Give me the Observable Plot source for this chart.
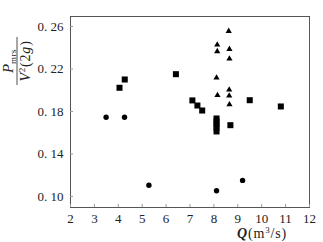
<!DOCTYPE html>
<html><head><meta charset="utf-8">
<script src="https://cdn.jsdelivr.net/npm/d3@7"></script>
<script src="https://cdn.jsdelivr.net/npm/@observablehq/plot@0.6"></script>
<style>
body{margin:0;background:#fff;}
#chart svg{display:block;}
</style></head>
<body><div id="chart"></div>
<script>
const circleQ = [3.49, 4.26, 5.28, 8.11, 9.20];
const circleR = [0.1746, 0.1746, 0.1106, 0.1054, 0.1151];
const squareQ = [4.05, 4.27, 6.41, 7.10, 7.31, 7.51, 8.11, 8.11, 8.11, 8.11, 8.11, 8.69, 9.50, 10.80];
const squareR = [0.2023, 0.2101, 0.2151, 0.1904, 0.1856, 0.1809, 0.1734, 0.1706, 0.1678, 0.1649, 0.1612, 0.1671, 0.1906, 0.1847];
const triQ = [8.62, 8.14, 8.14, 8.65, 8.65, 8.11, 8.15, 8.64, 8.64, 8.65];
const triR = [0.2556, 0.2428, 0.2365, 0.2387, 0.2296, 0.2117, 0.1953, 0.2004, 0.1948, 0.1866];
const xTicks = [2, 3, 4, 5, 6, 7, 8, 9, 10, 11, 12];
const yTicks = [0.10, 0.14, 0.18, 0.22, 0.26];

const toRows = (qs, rs) => qs.map((q, i) => ({q, r: rs[i]}));
const circles = toRows(circleQ, circleR);
const squares = toRows(squareQ, squareR);
const tris = toRows(triQ, triR);

const font = "'Liberation Serif', 'DejaVu Serif', serif";
const plot = Plot.plot({
  width: 323, height: 242,
  marginLeft: 70, marginRight: 14, marginTop: 16, marginBottom: 35,
  style: {fontFamily: font, fontSize: "13px", color: "#333", background: "#fff"},
  x: {domain: [2, 12]},
  y: {domain: [0.0896, 0.2694]},
  marks: [
    Plot.frame({stroke: "#555", strokeWidth: 1}),
    Plot.axisX({ticks: xTicks, tickSize: -3, tickPadding: 9, label: null, stroke: "#999", fill: "#222", tickFormat: d => String(d)}),
    Plot.axisY({ticks: yTicks, tickSize: -3, tickPadding: 10, label: null, stroke: "#999", fill: "#222",
      tickFormat: d => "0. " + String(Math.round(d * 100)).padStart(2, "0")}),
    Plot.dot(circles, {x: "q", y: "r", symbol: "circle", r: 2.7, fill: "#000", stroke: "none"}),
    Plot.dot(squares, {x: "q", y: "r", symbol: "square", r: 3.4, fill: "#000", stroke: "none"}),
    Plot.dot(tris, {x: "q", y: "r", symbol: "triangle", r: 2.3, fill: "#000", stroke: "none"})
  ]
});
document.getElementById("chart").appendChild(plot);

const svg = d3.select(plot);
// x label
const xl = svg.append("text").attr("x", 262).attr("y", 238).attr("text-anchor", "middle")
  .attr("font-family", font).attr("font-size", 14).attr("fill", "#222").attr("letter-spacing", 0.8);
xl.append("tspan").attr("font-style", "italic").attr("font-weight", "bold").text("Q");
xl.append("tspan").text("(m");
xl.append("tspan").attr("font-size", 9).attr("dy", -5).text("3");
xl.append("tspan").attr("dy", 5).text("/s)");

// y label (fraction, rotated)
const g = svg.append("g").attr("transform", "translate(17,61) rotate(-90)")
  .attr("font-family", font).attr("fill", "#222");
const num = g.append("text").attr("x", 0).attr("y", -4).attr("text-anchor", "middle").attr("font-size", 15);
num.append("tspan").attr("font-style", "italic").text("P");
num.append("tspan").attr("font-size", 9).attr("dy", 3).attr("letter-spacing", 0.5).text("mrs");
g.append("line").attr("x1", -24).attr("x2", 24).attr("y1", 0).attr("y2", 0).attr("stroke", "#222").attr("stroke-width", 0.8);
const den = g.append("text").attr("x", 0).attr("y", 13).attr("text-anchor", "middle").attr("font-size", 14).attr("letter-spacing", 0.8);
den.append("tspan").attr("font-style", "italic").text("V");
den.append("tspan").attr("font-size", 9).attr("dy", -5).text("2");
den.append("tspan").attr("dy", 5).text("(2");
den.append("tspan").attr("font-style", "italic").text("g");
den.append("tspan").text(")");
</script></body></html>
